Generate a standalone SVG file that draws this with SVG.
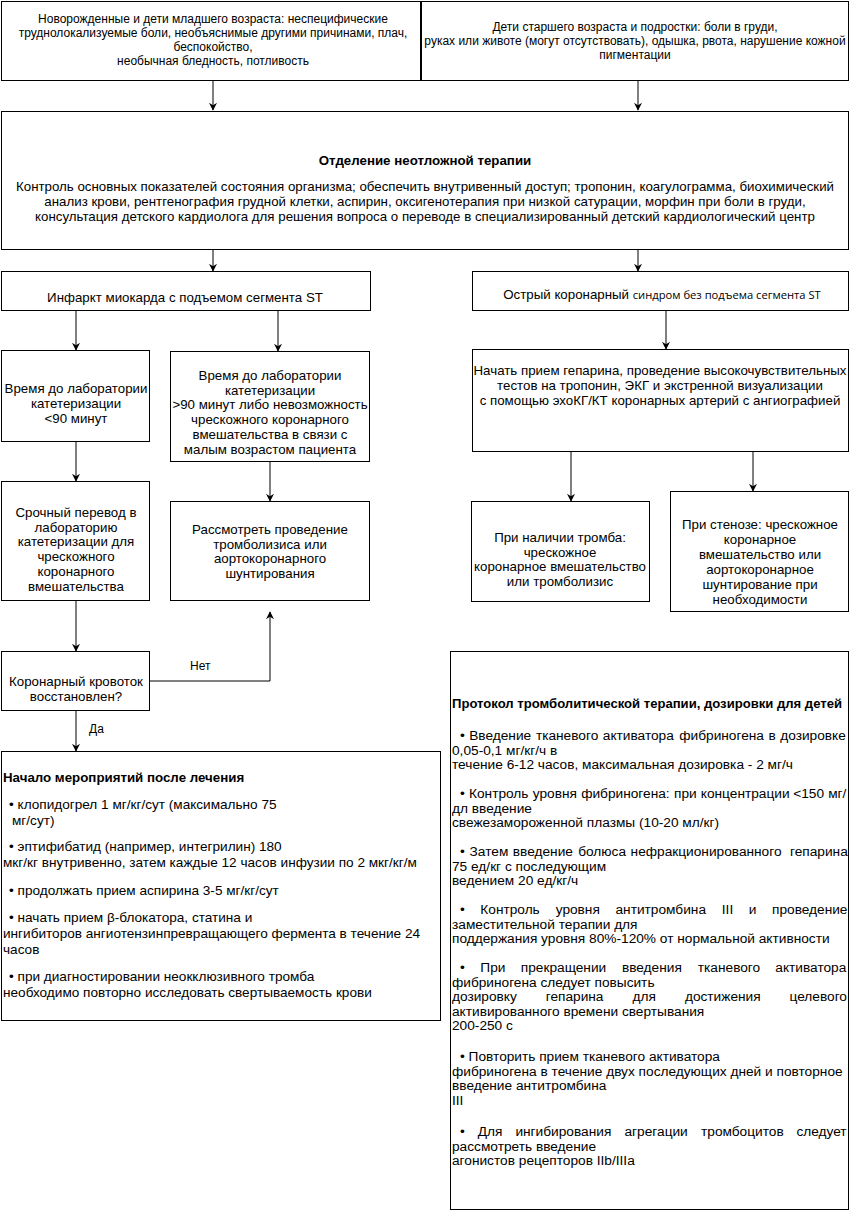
<svg xmlns="http://www.w3.org/2000/svg" width="851" height="1212" viewBox="0 0 851 1212">
<style>
text{font-family:"Liberation Sans",Arial,sans-serif;font-size:13.3px;fill:#000}
.s12{font-size:12px}
.p{font-size:13.7px}
.q{font-size:13.6px}
.c{text-anchor:middle}
.b{font-weight:bold}
.pt{font-size:13.1px}
.box{fill:#fff;stroke:#000;stroke-width:1}
.ln{fill:none;stroke:#000;stroke-width:1}
.os{font-family:"Open Sans","Liberation Sans",sans-serif;font-size:11.2px}
</style>
<defs>
<marker id="ah" viewBox="0 0 10 10" refX="9" refY="5" markerWidth="8" markerHeight="8" markerUnits="userSpaceOnUse" orient="auto">
<path d="M0,0 L10,5 L0,10 L3,5 z" fill="#000"/>
</marker>
</defs>
<rect width="851" height="1212" fill="#fff"/>
<g id="connectors">
<path class="ln" d="M213,81 V110" marker-end="url(#ah)"/>
<path class="ln" d="M638,81 V110" marker-end="url(#ah)"/>
<path class="ln" d="M213,250 V271" marker-end="url(#ah)"/>
<path class="ln" d="M638,250 V271" marker-end="url(#ah)"/>
<path class="ln" d="M76,311 V350" marker-end="url(#ah)"/>
<path class="ln" d="M278,311 V351" marker-end="url(#ah)"/>
<path class="ln" d="M666,311 V349" marker-end="url(#ah)"/>
<path class="ln" d="M76,442 V481" marker-end="url(#ah)"/>
<path class="ln" d="M270,462 V501" marker-end="url(#ah)"/>
<path class="ln" d="M571,452 V501" marker-end="url(#ah)"/>
<path class="ln" d="M753,452 V491" marker-end="url(#ah)"/>
<path class="ln" d="M76,601 V651" marker-end="url(#ah)"/>
<path class="ln" d="M150,681 H270 V612" marker-end="url(#ah)"/>
<path class="ln" d="M76,711 V751" marker-end="url(#ah)"/>
<text class="s12" x="190" y="670">Нет</text>
<text class="s12" x="89" y="733">Да</text>
</g>
<g id="n1">
<rect class="box" x="1.5" y="1.5" width="419" height="79"/>
<text class="s12 c" x="213" y="23">Новорожденные и дети младшего возраста: неспецифические</text>
<text class="s12 c" x="213" y="37">труднолокализуемые боли, необъяснимые другими причинами, плач,</text>
<text class="s12 c" x="213" y="51">беспокойство,</text>
<text class="s12 c" x="213" y="65">необычная бледность, потливость</text>
</g>
<g id="n2">
<rect class="box" x="421.5" y="1.5" width="427" height="79"/>
<text class="s12 c" x="635" y="31">Дети старшего возраста и подростки: боли в груди,</text>
<text class="s12 c" x="635" y="45">руках или животе (могут отсутствовать), одышка, рвота, нарушение кожной</text>
<text class="s12 c" x="635" y="59">пигментации</text>
</g>
<g id="n3">
<rect class="box" x="1.5" y="111.5" width="847" height="138"/>
<text class="b c" x="425" y="164.5">Отделение неотложной терапии</text>
<text class="c" x="425" y="190.5">Контроль основных показателей состояния организма; обеспечить внутривенный доступ; тропонин, коагулограмма, биохимический</text>
<text class="c" x="425" y="205.5">анализ крови, рентгенография грудной клетки, аспирин, оксигенотерапия при низкой сатурации, морфин при боли в груди,</text>
<text class="c" x="425" y="220.5">консультация детского кардиолога для решения вопроса о переводе в специализированный детский кардиологический центр</text>
</g>
<g id="n4">
<rect class="box" x="1.5" y="271.5" width="369" height="39"/>
<text class="c" x="185" y="301.5">Инфаркт миокарда с подъемом сегмента ST</text>
</g>
<g id="n5">
<rect class="box" x="472.5" y="271.5" width="376" height="39"/>
<text class="c" x="662" y="298.5">Острый коронарный <tspan class="os">синдром без подъема сегмента ST</tspan></text>
</g>
<g id="n6">
<rect class="box" x="1.5" y="350.5" width="148" height="91"/>
<text class="c" x="76" y="392.5">Время до лаборатории</text>
<text class="c" x="76" y="407.5">катетеризации</text>
<text class="c" x="76" y="422.5">&lt;90 минут</text>
</g>
<g id="n7">
<rect class="box" x="170.5" y="351.5" width="199" height="110"/>
<text class="c" x="270" y="380">Время до лаборатории</text>
<text class="c" x="270" y="394.5">катетеризации</text>
<text class="c" x="270" y="409">&gt;90 минут либо невозможность</text>
<text class="c" x="270" y="424">чрескожного коронарного</text>
<text class="c" x="270" y="439">вмешательства в связи с</text>
<text class="c" x="270" y="454">малым возрастом пациента</text>
</g>
<g id="n8">
<rect class="box" x="472.5" y="349.5" width="376" height="102"/>
<text class="c" x="660" y="374.5">Начать прием гепарина, проведение высокочувствительных</text>
<text class="c" x="660" y="390">тестов на тропонин, ЭКГ и экстренной визуализации</text>
<text class="c" x="660" y="405">с помощью эхоКГ/КТ коронарных артерий с ангиографией</text>
</g>
<g id="n9">
<rect class="box" x="1.5" y="481.5" width="148" height="119"/>
<text class="c" x="76" y="516.5">Срочный перевод в</text>
<text class="c" x="76" y="531.5">лабораторию</text>
<text class="c" x="76" y="546">катетеризации для</text>
<text class="c" x="76" y="561">чрескожного</text>
<text class="c" x="76" y="575.5">коронарного</text>
<text class="c" x="76" y="590.5">вмешательства</text>
</g>
<g id="n10">
<rect class="box" x="170.5" y="501.5" width="199" height="99"/>
<text class="c" x="270" y="533.5">Рассмотреть проведение</text>
<text class="c" x="270" y="548.5">тромболизиса или</text>
<text class="c" x="270" y="562.5">аортокоронарного</text>
<text class="c" x="270" y="577.5">шунтирования</text>
</g>
<g id="n11">
<rect class="box" x="471.5" y="501.5" width="178" height="100"/>
<text class="c" x="560" y="541.5">При наличии тромба:</text>
<text class="c" x="560" y="556.5">чрескожное</text>
<text class="c" x="560" y="570.5">коронарное вмешательство</text>
<text class="c" x="560" y="585.5">или тромболизис</text>
</g>
<g id="n12">
<rect class="box" x="670.5" y="491.5" width="178" height="120"/>
<text class="c" x="760" y="528.5">При стенозе: чрескожное</text>
<text class="c" x="760" y="543.5">коронарное</text>
<text class="c" x="760" y="558.5">вмешательство или</text>
<text class="c" x="760" y="573.5">аортокоронарное</text>
<text class="c" x="760" y="588.5">шунтирование при</text>
<text class="c" x="760" y="603.5">необходимости</text>
</g>
<g id="n13">
<rect class="box" x="1.5" y="651.5" width="148" height="59"/>
<text class="c" x="76" y="685.5">Коронарный кровоток</text>
<text class="c" x="76" y="700.5">восстановлен?</text>
</g>
<g id="n14">
<rect class="box" x="1.5" y="751.5" width="439" height="269"/>
<text class="b" x="3" y="782">Начало мероприятий после лечения</text>
<text class="q" x="9" y="809">• клопидогрел 1 мг/кг/сут (максимально 75</text>
<text class="q" x="12" y="825">мг/сут)</text>
<text class="q" x="9" y="851">• эптифибатид (например, интегрилин) 180</text>
<text class="q" x="3" y="867">мкг/кг внутривенно, затем каждые 12 часов инфузии по 2 мкг/кг/м</text>
<text class="q" x="9" y="895">• продолжать прием аспирина 3-5 мг/кг/сут</text>
<text class="q" x="9" y="922">• начать прием β-блокатора, статина и</text>
<text class="q" x="3" y="938">ингибиторов ангиотензинпревращающего фермента в течение 24</text>
<text class="q" x="3" y="954">часов</text>
<text class="q" x="9" y="981">•  при диагностировании неокклюзивного тромба</text>
<text class="q" x="3" y="997">необходимо повторно исследовать свертываемость крови</text>
</g>
<g id="n15">
<rect class="box" x="450.5" y="651.5" width="398" height="558"/>
<text class="b pt" x="452" y="708">Протокол тромболитической терапии, дозировки для детей</text>
<text class="p" y="740"><tspan x="460">•</tspan><tspan x="469.2">Введение</tspan><tspan x="535.9">тканевого</tspan><tspan x="602.8">активатора</tspan><tspan x="679.3">фибриногена</tspan><tspan x="768.6">в</tspan><tspan x="780.2">дозировке</tspan></text>
<text class="p" x="452" y="754.5">0,05-0,1 мг/кг/ч в</text>
<text class="p" x="452" y="769">течение 6-12 часов, максимальная дозировка - 2 мг/ч</text>
<text class="p" y="798"><tspan x="460">•</tspan><tspan x="469">Контроль</tspan><tspan x="532.8">уровня</tspan><tspan x="581.2">фибриногена:</tspan><tspan x="674">при</tspan><tspan x="700.8">концентрации</tspan><tspan x="793.2">&lt;150</tspan><tspan x="828.2">мг/</tspan></text>
<text class="p" x="452" y="812.5">дл введение</text>
<text class="p" x="452" y="827">свежезамороженной плазмы (10-20 мл/кг)</text>
<text class="p" y="856"><tspan x="460">•</tspan><tspan x="469.6">Затем</tspan><tspan x="512.8">введение</tspan><tspan x="578.2">болюса</tspan><tspan x="630.6">нефракционированного</tspan><tspan x="790">гепарина</tspan></text>
<text class="p" x="452" y="870.5">75 ед/кг с последующим</text>
<text class="p" x="452" y="885">ведением 20 ед/кг/ч</text>
<text class="p" y="914"><tspan x="460">•</tspan><tspan x="480.3">Контроль</tspan><tspan x="555.7">уровня</tspan><tspan x="615.5">антитромбина</tspan><tspan x="721.8">III</tspan><tspan x="748.8">и</tspan><tspan x="772">проведение</tspan></text>
<text class="p" x="452" y="928.5">заместительной терапии для</text>
<text class="p" x="452" y="943">поддержания уровня 80%-120% от нормальной активности</text>
<text class="p" y="972"><tspan x="460">•</tspan><tspan x="480.3">При</tspan><tspan x="520.8">прекращении</tspan><tspan x="621.9">введения</tspan><tspan x="697.8">тканевого</tspan><tspan x="775.3">активатора</tspan></text>
<text class="p" x="452" y="986.5">фибриногена следует повысить</text>
<text class="p" y="1001"><tspan x="452">дозировку</tspan><tspan x="545.7">гепарина</tspan><tspan x="632.6">для</tspan><tspan x="684.9">достижения</tspan><tspan x="789.5">целевого</tspan></text>
<text class="p" x="452" y="1015.5">активированного времени свертывания</text>
<text class="p" x="452" y="1030">200-250 с</text>
<text class="p" x="460" y="1061">•  Повторить прием тканевого активатора</text>
<text class="p" x="452" y="1075.5">фибриногена в течение двух последующих дней и повторное</text>
<text class="p" x="452" y="1090">введение антитромбина</text>
<text class="p" x="452" y="1104.5">III</text>
<text class="p" y="1136"><tspan x="460">•</tspan><tspan x="477.8">Для</tspan><tspan x="515.4">ингибирования</tspan><tspan x="624.5">агрегации</tspan><tspan x="701">тромбоцитов</tspan><tspan x="796.4">следует</tspan></text>
<text class="p" x="452" y="1150.5">рассмотреть введение</text>
<text class="p" x="452" y="1165">агонистов рецепторов IIb/IIIa</text>
</g>
</svg>
